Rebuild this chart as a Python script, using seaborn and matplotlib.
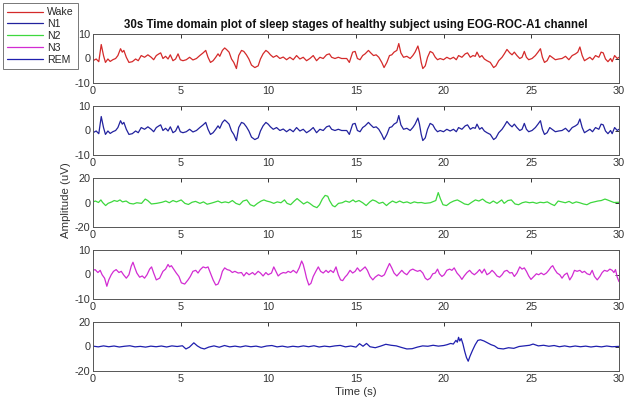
import numpy as np
import pandas as pd
import matplotlib
matplotlib.use("Agg")
import matplotlib.pyplot as plt
import seaborn as sns
from matplotlib.lines import Line2D

# ---------------- data ----------------
stages = ["Wake", "N1", "N2", "N3", "REM"]
colors = ["#d42a2a", "#22229e", "#3ed83e", "#d22cd2", "#1f1fae"]
y_limits = [10, 10, 20, 10, 20]
x_ticks = [0, 5, 10, 15, 20, 25, 30]

wake_t = [0, 0.18, 0.33, 0.47, 0.6, 0.71, 0.85, 0.98, 1.13, 1.29,
          1.42, 1.57, 1.67, 1.76, 1.9, 2.05, 2.24, 2.43, 2.58, 2.75,
          2.94, 3.13, 3.32, 3.46, 3.61, 3.76, 3.86, 3.99, 4.14, 4.28,
          4.41, 4.56, 4.71, 4.85, 4.98, 5.13, 5.32, 5.51, 5.70, 5.90,
          6.09, 6.28, 6.43, 6.56, 6.7, 6.85, 7.0, 7.13, 7.23, 7.38,
          7.51, 7.61, 7.76, 7.9, 8.03, 8.18, 8.31, 8.47, 8.6, 8.75,
          8.89, 9.04, 9.23, 9.42, 9.55, 9.7, 9.86, 9.99, 10.12, 10.28,
          10.47, 10.66, 10.85, 11.04, 11.23, 11.42, 11.61, 11.8, 11.99, 12.18,
          12.37, 12.56, 12.75, 12.94, 13.13, 13.32, 13.48, 13.61, 13.8, 13.99,
          14.18, 14.47, 14.62, 14.81, 14.95, 15.08, 15.23, 15.38, 15.52, 15.71,
          15.84, 16.0, 16.15, 16.3, 16.47, 16.6, 16.76, 16.91, 17.04, 17.17,
          17.33, 17.44, 17.56, 17.71, 17.9, 18.09, 18.24, 18.37, 18.53, 18.62,
          18.72, 18.81, 18.95, 19.08, 19.23, 19.38, 19.52, 19.65, 19.8, 19.99,
          20.18, 20.37, 20.56, 20.72, 20.85, 21.04, 21.23, 21.36, 21.52, 21.67,
          21.8, 21.9, 22.05, 22.18, 22.32, 22.47, 22.66, 22.85, 22.98, 23.14,
          23.33, 23.46, 23.61, 23.77, 23.9, 24.03, 24.18, 24.34, 24.47, 24.6,
          24.72, 24.85, 25.04, 25.23, 25.38, 25.52, 25.63, 25.75, 25.9, 26.05,
          26.18, 26.37, 26.56, 26.75, 26.95, 27.14, 27.33, 27.52, 27.65, 27.77,
          27.9, 28.03, 28.18, 28.34, 28.49, 28.66, 28.85, 28.98, 29.1, 29.23,
          29.37, 29.52, 29.61, 29.75, 29.9, 30.0]
wake_v = [-0.9, -0.2, -1.3, 5.7, 1.2, -1.6, -0.2, -1.2, -0.5, 0,
          1.2, 4, 2.6, 3.3, 0.5, -1.6, -1.3, -0.2, -0.9, 1.2,
          0.5, 1.5, 0.5, -0.5, 1.2, 1.9, 2.3, 0, 0.9, -0.2,
          1.5, -0.9, -0.2, 1.9, -0.5, -0.9, -0.5, 0.5, -0.6, 0,
          1.2, 2.3, 3.3, 0.5, -1.6, -0.9, 0.5, 1.9, 0.9, 3.3,
          4.3, 3.7, 2.6, -0.2, -1.6, -4.1, 1.2, 3.3, 2.9, 1.5,
          -0.2, -2.7, -3.7, -3, -0.2, 1.9, 3.3, 2.6, 1.5, 0.5,
          1.2, 0, 0.6, -0.5, 0.5, -0.5, 1.2, -0.2, 0.5, -0.9,
          0, 1.2, -0.9, 0.5, 0, 1.5, 1.9, 0.5, 0, 0.5,
          0, 0, -1.6, 2.6, 2.9, 0, -0.5, 1.2, 1.9, 3.3,
          2.3, 1.2, 1.5, 0.5, -1.6, -3.7, -1.6, 1.2, 1.5, 2.6,
          3.3, 6.1, 2.3, 0.5, 0.9, 0, 1.2, 2.6, 5.1, 2.6,
          -1.6, -4.1, -3, 0.5, 2.9, 2.3, 0.5, -0.5, 0, -0.5,
          0.5, -0.2, 0.5, -0.5, 1.2, 0.5, 1.9, 2.3, 0.5, 1.2,
          0.9, 2.6, 0.5, 1.2, -0.2, -0.9, -1.6, -3.7, -3, -0.9,
          0.5, 1.9, 3.7, 2.3, 1.5, 2.6, 1.2, 0, 0.5, 2.9,
          0.5, -0.5, 0, 1.2, 2.6, 4, 0.5, -1.6, -0.9, 1.2,
          0.5, -0.5, -0.2, 0, 0.9, -0.5, 1.2, 1.9, 2.6, 4.7,
          1.2, -0.9, -0.2, 0.5, -0.5, 1.2, 0.5, 2.6, 2.3, -0.2,
          -1.3, 0, -1.3, 1.2, 0, 0.5]

# N1 trace in the reference is the same waveform as Wake
n1_t = list(wake_t)
n1_v = list(wake_v)

n2_t = [0, 0.14, 0.31, 0.45, 0.55, 0.72, 0.86, 1.07, 1.21, 1.38,
        1.54, 1.68, 1.89, 2.09, 2.3, 2.5, 2.77, 2.98, 3.12, 3.33,
        3.63, 3.94, 4.15, 4.35, 4.56, 4.76, 5.03, 5.24, 5.44, 5.65,
        5.85, 6.1, 6.3, 6.51, 6.71, 6.92, 7.13, 7.33, 7.54, 7.74,
        7.95, 8.15, 8.36, 8.56, 8.77, 8.97, 9.18, 9.38, 9.59, 9.75,
        9.9, 10.1, 10.31, 10.51, 10.72, 10.92, 11.07, 11.27, 11.48, 11.64,
        11.81, 12.01, 12.22, 12.36, 12.57, 12.77, 12.92, 13.08, 13.24, 13.39,
        13.49, 13.66, 13.8, 14.0, 14.21, 14.41, 14.62, 14.83, 14.97, 15.17,
        15.38, 15.58, 15.79, 15.95, 16.12, 16.32, 16.53, 16.74, 16.88, 17.08,
        17.29, 17.49, 17.7, 17.91, 18.11, 18.32, 18.52, 18.73, 18.93, 19.24,
        19.55, 19.69, 19.82, 19.96, 20.16, 20.37, 20.57, 20.78, 20.99, 21.19,
        21.4, 21.6, 21.81, 22.01, 22.22, 22.42, 22.63, 22.83, 23.04, 23.31,
        23.45, 23.66, 23.86, 24.07, 24.27, 24.48, 24.68, 24.89, 25.09, 25.3,
        25.5, 25.71, 25.91, 26.12, 26.32, 26.53, 26.74, 26.94, 27.15, 27.35,
        27.56, 27.76, 27.97, 28.17, 28.38, 28.58, 28.79, 28.99, 29.2, 29.34,
        29.5, 29.71, 30.0]
n2_v = [0.5, 1.2, 0, 2.1, 0, -2.5, -0.7, 0.5, 1.6, 0.9,
        2.1, 0.5, 1.2, -0.7, -1.2, -0.2, -0.7, 2.8, 1.6, -1.2,
        -0.7, 0.2, 1.2, -0.2, 1.6, 0.5, 2.1, -0.7, -1.6, 0.2,
        0.9, -0.7, 0.5, -1.4, -0.7, 0.2, 1.2, -0.2, 0.5, -0.2,
        1.6, -0.7, -1.8, 1.2, 2.1, -1.8, -3, -0.7, 1.2, 2.1,
        1.2, 0.5, -0.7, 0.5, -0.2, 2.1, -0.7, -1.8, 1.2, 3.2,
        1.2, -1.2, 0.5, -0.7, -3, -4.2, -1.8, 2.8, 5.8, 5.1,
        1.6, -2.5, -3.5, -0.7, -0.2, 1.2, 0.2, 2.1, 0.5, 1.6,
        -0.2, -2.5, 0.5, 2.1, 1.2, -0.7, 0.2, -2.5, -0.7, 1.2,
        -0.2, 1.2, -0.2, 0.5, -0.7, 0.5, -0.2, 0, -0.7, -0.2,
        1.6, 8.1, 2.8, -1.8, -2.5, -0.2, 1.2, 2.1, 0.5, -1.2,
        -1.8, 0.2, 2.1, 1.2, 2.8, 0.5, -0.7, 1.2, -0.7, 2.1,
        -0.7, 1.6, 2.1, -1.2, -1.8, -0.2, 0.5, -0.2, 0.2, -0.7,
        0.2, -0.2, 0.5, -1.2, -2.5, 1.2, 0.5, -0.2, 0.9, -0.7,
        0.5, -0.2, -1.2, -1.8, -0.2, 0.5, 1.2, 1.6, 2.8, 2.1,
        1.2, 0, 0.2]

n3_t = [0, 0.12, 0.28, 0.41, 0.52, 0.66, 0.79, 0.9, 1.04, 1.17,
        1.32, 1.48, 1.61, 1.74, 1.9, 2.05, 2.18, 2.28, 2.39, 2.5,
        2.66, 2.81, 2.94, 3.08, 3.23, 3.34, 3.46, 3.61, 3.8, 3.99,
        4.14, 4.28, 4.37, 4.47, 4.6, 4.75, 4.9, 5.04, 5.23, 5.42,
        5.55, 5.7, 5.86, 5.99, 6.12, 6.28, 6.43, 6.56, 6.7, 6.85,
        7.0, 7.13, 7.27, 7.38, 7.51, 7.65, 7.8, 7.95, 8.09, 8.28,
        8.47, 8.6, 8.75, 8.9, 9.1, 9.23, 9.42, 9.55, 9.7, 9.86,
        9.99, 10.18, 10.31, 10.43, 10.56, 10.7, 10.85, 11.0, 11.13, 11.27,
        11.42, 11.61, 11.76, 11.9, 11.99, 12.09, 12.18, 12.31, 12.43, 12.56,
        12.71, 12.85, 12.98, 13.13, 13.29, 13.42, 13.55, 13.71, 13.86, 13.99,
        14.12, 14.24, 14.37, 14.5, 14.66, 14.81, 14.95, 15.08, 15.23, 15.38,
        15.52, 15.65, 15.8, 15.96, 16.09, 16.28, 16.47, 16.62, 16.76, 16.91,
        17.04, 17.17, 17.33, 17.48, 17.61, 17.75, 17.9, 18.09, 18.24, 18.37,
        18.51, 18.66, 18.81, 18.95, 19.08, 19.23, 19.38, 19.52, 19.65, 19.76,
        19.9, 20.03, 20.18, 20.34, 20.47, 20.6, 20.76, 20.91, 21.04, 21.17,
        21.33, 21.48, 21.61, 21.75, 21.9, 22.05, 22.18, 22.32, 22.47, 22.62,
        22.76, 22.89, 23.04, 23.19, 23.33, 23.46, 23.61, 23.77, 23.9, 24.03,
        24.18, 24.34, 24.47, 24.6, 24.72, 24.85, 24.98, 25.14, 25.29, 25.42,
        25.56, 25.71, 25.86, 25.99, 26.13, 26.22, 26.32, 26.47, 26.62, 26.75,
        26.89, 27.04, 27.19, 27.33, 27.46, 27.61, 27.77, 27.9, 28.03, 28.18,
        28.34, 28.47, 28.6, 28.76, 28.91, 29.04, 29.17, 29.33, 29.48, 29.61,
        29.71, 29.8, 29.9, 30.0]
n3_v = [1.7, 2, 0.8, 1.7, -0.1, -1.5, -4.8, -2.2, -0.1, 1.3,
        2, 0.8, 1.3, -0.1, -1.5, -0.1, 3.4, 5, 2.7, 0.6,
        -1.1, -0.6, -1.5, -0.1, 2.2, 3.1, 0.6, -2.2, -1.5, 1.3,
        2.2, 4.1, 3.1, 3.6, 2.2, 0.6, -0.8, -3.4, -3.9, -2.2,
        -0.8, 1.3, 1.7, 0.6, 2, 3.1, 2.7, 3.1, 0.6, -2.2,
        -4.3, -3.9, -1.5, 1.3, 2.7, 2, 1.7, 0.8, 1.3, 0.6,
        0.8, -0.6, 0.8, -0.1, 0.8, -0.1, 1.3, 0.6, -0.6, 0.8,
        -0.1, 0.6, 3.1, 1.3, -0.6, 0.3, 0.8, 0.6, 1.3, 0.8,
        1.7, 0.6, 2.7, 5.5, 4.1, 1.3, -1.5, -4.3, -3.6, -0.8,
        1.3, 3.1, 1.3, 0.6, 1.7, 0.8, 1.7, 0.8, 3.1, -0.1,
        -2.2, -2.5, -1.1, -0.1, 1.7, 0.6, 1.3, 2.7, 1.3, 2.2,
        3.1, 1.7, -0.8, -2.2, -1.1, -0.1, -0.8, -0.1, 2.2, 4.5,
        2.7, 0.6, -0.6, 0.6, 1.7, 0.6, -0.1, 1.7, 2.2, 1.7,
        1.3, 1.7, 0.6, -1.5, -2.2, -1.5, 0.3, 0.6, 2.2, 0.3,
        -0.8, -0.1, 1.7, 2.2, 1.7, 2.7, 0.6, -0.6, -2, -0.6,
        0.8, 1.7, 0.6, -0.1, 0.8, 2, 0.6, 2.2, -0.1, 0.6,
        1.7, 0.8, -0.6, -1.1, -0.1, 1.3, 1.7, 0.6, 0.8, -0.8,
        0.6, 3.1, 2.2, 2.7, 1.3, -0.6, -2, -0.8, 0.3, -0.1,
        0.6, -0.1, 0.6, 1.7, 3.1, 3.6, 2.2, 0.6, -0.1, -1.5,
        -0.1, 0.6, -2.2, -0.6, 1.7, 1.3, 1.7, 0.8, 1.3, 0.3,
        -0.1, 1.7, -0.8, -2.2, -0.8, 0.8, 1.7, 1.3, 2.2, 1.7,
        0.8, 2, -1.1, -2.9]

rem_t = [0, 0.3, 0.6, 0.9, 1.2, 1.5, 1.8, 2.1, 2.4, 2.7,
         3.0, 3.3, 3.6, 3.9, 4.2, 4.5, 4.8, 5.1, 5.3, 5.5,
         5.75, 5.95, 6.15, 6.35, 6.6, 6.9, 7.2, 7.5, 7.8, 8.1,
         8.4, 8.7, 9.0, 9.3, 9.6, 9.9, 10.2, 10.5, 10.8, 11.1,
         11.4, 11.7, 12.0, 12.3, 12.6, 12.9, 13.2, 13.5, 13.8, 14.1,
         14.4, 14.7, 15.0, 15.2, 15.4, 15.6, 15.8, 16.1, 16.4, 16.7,
         17.0, 17.3, 17.6, 17.9, 18.2, 18.5, 18.8, 19.1, 19.4, 19.7,
         20.0, 20.2, 20.4, 20.55, 20.7, 20.78, 20.85, 20.92, 21.0, 21.1,
         21.2, 21.3, 21.4, 21.5, 21.65, 21.8, 21.95, 22.1, 22.3, 22.5,
         22.7, 22.9, 23.1, 23.4, 23.7, 24.0, 24.3, 24.6, 24.9, 25.1,
         25.4, 25.7, 26.0, 26.3, 26.6, 26.9, 27.2, 27.5, 27.8, 28.1,
         28.4, 28.7, 29.0, 29.3, 29.6, 30.0]
rem_v = [0.3, -0.3, 0.5, -0.2, 0.4, -0.4, 0.2, 0.6, -0.3, 0.1,
         -0.5, 0.3, -0.2, 0.4, -0.4, 0.5, 0, 0.6, -2, -0.5,
         3, 0.5, -1.2, -2, -0.5, 0.5, -0.6, 0.8, -0.3, 0.3,
         -0.4, 0.5, -0.2, 0.3, -0.6, 0.4, 0.8, -0.3, 0.3, -0.5,
         0.2, -0.3, 0.5, -0.2, 0.6, -0.4, 0.3, -0.2, 0.5, 0.9,
         -0.3, 0.4, -0.5, 2.3, 0.2, 2.5, -0.2, -1.0, 0.3, 1.8,
         1.0, 0.5, -0.8, -2, -1.8, -0.5, 0.5, 0.2, 1.0, 0.3,
         0.8, 1.5, 2.5, 2, 5, 3.5, 7.5, 4.5, 6.5, 2,
         -4, -9, -12, -8, -3, 1.5, 5, 5.5, 4.5, 3,
         1.5, 0.5, -1.5, -2, -1, -1.5, 0, 0.5, 1, 2,
         0.5, 1, 0.2, 0.8, -0.2, 0.5, -0.3, 0.4, -0.2, 0.3,
         -0.4, 0.2, -0.3, 0.4, -0.2, 0.1]

series_t = [wake_t, n1_t, n2_t, n3_t, rem_t]
series_v = [wake_v, n1_v, n2_v, n3_v, rem_v]

# ---------------- figure ----------------
sns.set_theme(style="white")
plt.rcParams["font.family"] = ["Liberation Sans", "DejaVu Sans"]
plt.rcParams["axes.unicode_minus"] = False

W, H = 624, 401
fig = plt.figure(figsize=(W / 100, H / 100), dpi=100)
fig.patch.set_facecolor("white")

left_px, right_px = 93, 619
tops_px = [34, 106, 178, 250, 322]
height_px = 49
axes = []
for i in range(5):
    top = tops_px[i]
    ax = fig.add_axes([left_px / W, 1 - (top + height_px) / H,
                       (right_px - left_px) / W, height_px / H])
    df = pd.DataFrame({"t": series_t[i], "v": series_v[i]})
    sns.lineplot(data=df, x="t", y="v", ax=ax, color=colors[i],
                 linewidth=0.9, sort=False, estimator=None)
    lim = y_limits[i]
    ax.set_xlim(0, 30)
    ax.set_ylim(-lim, lim)
    ax.set_xticks(x_ticks)
    ax.set_yticks([-lim, 0, lim])
    ax.set_xlabel("")
    ax.set_ylabel("")
    ax.tick_params(direction="in", length=3, width=0.7, top=True,
                   right=True, labelsize=7.8, colors="#333333",
                   pad=2)
    for s in ax.spines.values():
        s.set_color("#555555")
        s.set_linewidth(0.7)
    axes.append(ax)

axes[0].set_title("30s Time domain plot of sleep stages of healthy subject using EOG-ROC-A1 channel",
                  fontsize=8.3, fontweight="bold", pad=4, color="#111111")
axes[4].set_xlabel("Time (s)", fontsize=8.2, color="#333333", labelpad=2)
fig.text(66 / W, 1 - 200 / H, "Amplitude (uV)", rotation=90, ha="center",
         va="center", fontsize=8.2, color="#333333")

handles = [Line2D([0], [0], color=c, linewidth=0.9) for c in colors]
leg = fig.legend(handles, stages, loc="upper left",
                 bbox_to_anchor=(3 / W, 1 - 3 / H), fontsize=7.6,
                 frameon=True, fancybox=False, handlelength=3.4,
                 handletextpad=0.4, borderpad=0.4, labelspacing=0.18,
                 borderaxespad=0)
leg.get_frame().set_edgecolor("#555555")
leg.get_frame().set_linewidth(0.7)

fig.savefig("out.png", dpi=100, facecolor="white")
